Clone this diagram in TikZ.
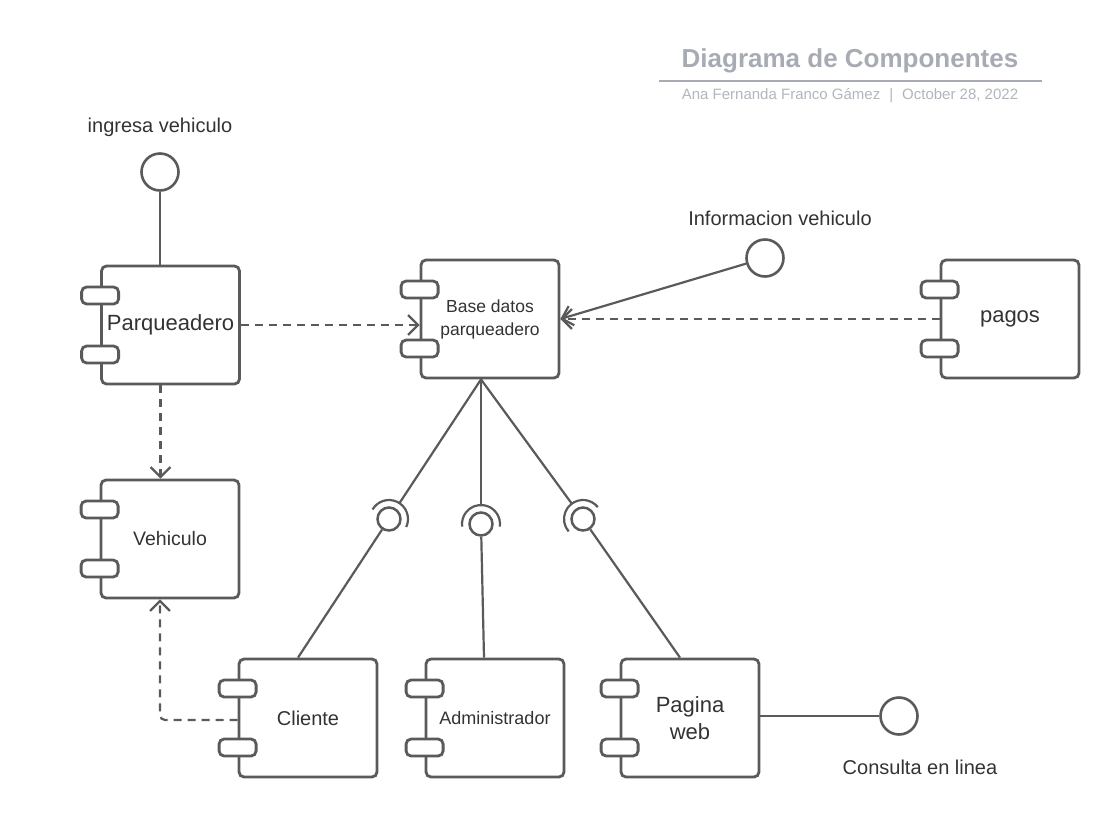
\documentclass[tikz,border=0pt]{standalone}
\usepackage{fontspec}
\setmainfont{Liberation Sans}
\usetikzlibrary{arrows.meta,calc,positioning}

\definecolor{linegray}{HTML}{5A5A5A}
\definecolor{textgray}{HTML}{333333}
\definecolor{titlegray}{HTML}{A7ABB4}
\definecolor{subgray}{HTML}{B2B5BC}

\tikzset{
  comp/.style={rectangle, draw=linegray, fill=white, line width=2.8pt, rounded corners=5pt,
    minimum width=138pt, minimum height=118pt, align=center, text=textgray},
  port/.style={rectangle, draw=linegray, fill=white, line width=2.8pt, rounded corners=5pt,
    minimum width=37pt, minimum height=17pt, inner sep=0pt},
  iface/.style={circle, draw=linegray, fill=white, line width=2.6pt, minimum size=37pt, inner sep=0pt},
  ball/.style={circle, draw=linegray, line width=2.5pt, minimum size=23pt, inner sep=0pt},
  wire/.style={draw=linegray, line width=2.2pt},
  dep/.style={wire, dash pattern=on 8pt off 6pt, -{Straight Barb[length=10pt,width=20pt]}},
  lbl/.style={text=textgray, font=\fontsize{20}{24}\selectfont}
}

\begin{document}
\begin{tikzpicture}[x=1pt, y=-1pt]
	\useasboundingbox (0,0) rectangle (1120,839);
	
	% Title block
	\node[text=titlegray, font=\fontsize{26}{30}\selectfont\bfseries] (title) at (850,61) {Diagrama de Componentes};
	\draw[titlegray, line width=2pt] (659,80.5) -- (1042,80.5);
	\node[text=subgray, font=\fontsize{15}{18}\selectfont] (sub) at (850,96) {Ana Fernanda Franco Gámez\hspace{9pt}|\hspace{9pt}October 28, 2022};
	
	% Draw the components
	\node[comp, font=\fontsize{22}{26}\selectfont] (park) at (170.5,325) {Parqueadero};
	\node[comp, font=\fontsize{17.5}{23}\selectfont] (base) at (490,319) {Base datos\\parqueadero};
	\node[comp, font=\fontsize{22}{26}\selectfont] (pagos) at (1010,319) {pagos};
	\node[comp, font=\fontsize{19.5}{24}\selectfont] (veh) at (170,539) {Vehiculo};
	\node[comp, font=\fontsize{20}{24}\selectfont] (cli) at (308,718) {Cliente};
	\node[comp, font=\fontsize{18}{22}\selectfont] (admin) at (495,718) {Administrador};
	\node[comp, font=\fontsize{22}{27}\selectfont] (web) at (690,718) {Pagina\\web};
	
	% Draw the ports
	\foreach \c in {park,base,pagos,veh,cli,admin,web}{
		\node[port] (\c-p1) at ([yshift=29.5pt]\c.west) {};
		\node[port] (\c-p2) at ([yshift=-29.5pt]\c.west) {};
	}
	
	% Draw the interfaces
	\node[iface] (ing) at (160,172) {};
	\node[lbl] (ingl) at (160,127) {ingresa vehiculo};
	\node[iface] (info) at (765,258) {};
	\node[lbl] (infol) at (780,218) {Informacion vehiculo};
	\node[iface] (cons) at (899,716) {};
	\node[lbl] (consl) at (920,767) {Consulta en linea};
	
	\draw[wire] (ing) -- (ing |- park.north);
	\draw[wire, -{Straight Barb[length=10pt,width=20pt]}] (info) -- (base.east);
	\draw[wire] (web.east |- cons) -- (cons);
	
	% Draw the sockets
	\coordinate (apex) at ([xshift=-9pt]base.south);
	\node[ball] (s1) at (389,519) {};
	\node[ball] (s2) at (481,524) {};
	\node[ball] (s3) at (583,519) {};
	\draw[wire] (s1) ++(-25:19pt) arc[start angle=-25, end angle=150, radius=19pt];
	\draw[wire] (s2) ++(-8:19pt) arc[start angle=-8, end angle=188, radius=19pt];
	\draw[wire] (s3) ++(39:19pt) arc[start angle=39, end angle=221, radius=19pt];
	\draw[wire] (apex) -- ($(s1)!19pt!(apex)$);
	\draw[wire] (apex) -- ($(s2)!19pt!(apex)$);
	\draw[wire] (apex) -- ($(s3)!19pt!(apex)$);
	\draw[wire] (s1) -- ([xshift=-10pt]cli.north);
	\draw[wire] (s2) -- ([xshift=-11pt]admin.north);
	\draw[wire] (s3) -- ([xshift=-10pt]web.north);
	
	% Draw the dependencies
	\draw[dep] (park.east) -- (park.east -| base.west);
	\draw[dep] (pagos.west) -- (base.east);
	\draw[dep] ([xshift=-10pt]park.south) -- ([xshift=-10pt]park.south |- veh.north);
	\draw[dep, rounded corners=5pt] ([yshift=-2pt]cli.west) -| ([xshift=-10pt]veh.south);
	
\end{tikzpicture}
\end{document}
